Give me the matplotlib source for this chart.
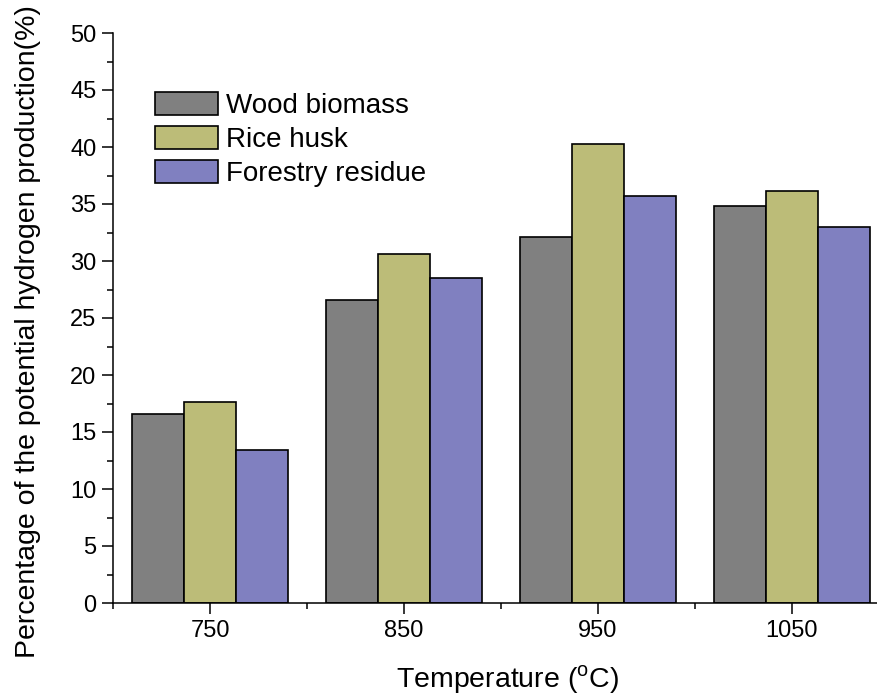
import matplotlib
matplotlib.use('Agg')
import matplotlib.pyplot as plt
from matplotlib.ticker import MultipleLocator, FixedLocator
import numpy as np

plt.rcParams['font.family'] = ['Liberation Sans', 'DejaVu Sans']

# --- data ---
temps = ['750', '850', '950', '1050']
wood = [16.6, 26.6, 32.1, 34.8]
rice = [17.6, 30.6, 40.3, 36.1]
forestry = [13.4, 28.5, 35.7, 33.0]

series = [('Wood biomass', wood, '#808080'),
          ('Rice husk', rice, '#bcbc78'),
          ('Forestry residue', forestry, '#8080c0')]

W, H = 878, 695
fig = plt.figure(figsize=(W / 100, H / 100), dpi=100)
# axes extends slightly past right edge, as in the cropped original
ax = fig.add_axes([113 / W, 1 - 603 / H, 776 / W, 570 / H])

x = np.arange(len(temps))
bw = 0.268
for i, (name, vals, col) in enumerate(series):
    ax.bar(x + (i - 1) * bw, vals, bw, color=col, edgecolor='black',
           linewidth=1.2, label=name, zorder=2)

ax.set_xlim(-0.5, 3.5)
ax.set_ylim(0, 50)
ax.set_xticks(x)
ax.set_xticklabels(temps)
ax.xaxis.set_minor_locator(FixedLocator([-0.5, 0.5, 1.5, 2.5, 3.5]))
ax.yaxis.set_major_locator(MultipleLocator(5))
ax.yaxis.set_minor_locator(MultipleLocator(2.5))

for side in ('top', 'right'):
    ax.spines[side].set_visible(False)
for side in ('left', 'bottom'):
    ax.spines[side].set_linewidth(1.1)

ax.tick_params(axis='both', which='major', direction='out', length=8,
               width=1.1, labelsize=17, pad=4)
ax.tick_params(axis='both', which='minor', direction='out', length=4.5,
               width=1.1)

ax.set_xlabel(r'Temperature ($^\mathregular{o}$C)', fontsize=20.5)
ax.xaxis.set_label_coords(0.509, -0.106)
ax.set_ylabel('Percentage of the potential hydrogen production(%)',
              fontsize=20.5)
ax.yaxis.set_label_coords(-0.093, 0.477)

leg = ax.legend(loc='upper left', bbox_to_anchor=(155 / W, 1 - 92 / H),
                bbox_transform=fig.transFigure, frameon=False, fontsize=20,
                handlelength=2.27, handleheight=0.9, handletextpad=0.3,
                labelspacing=0.24, borderpad=0, borderaxespad=0)

fig.savefig('out.png', dpi=100)
